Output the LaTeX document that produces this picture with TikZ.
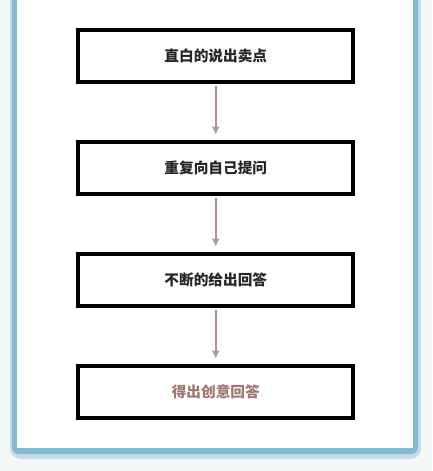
\documentclass[tikz,border=0pt]{standalone}
\usepackage{fontspec}
\newfontfamily\cjk{Noto Sans CJK SC}
\usepackage{tikz}
\usetikzlibrary{arrows.meta}

\definecolor{pagebg}{HTML}{F4F8F9}
\definecolor{framebl}{HTML}{86B8CE}
\definecolor{framelt}{HTML}{C4DDE8}
\definecolor{arrline}{HTML}{BE8E8E}
\definecolor{arrhead}{HTML}{A89C9C}
\definecolor{resulttxt}{HTML}{A07672}

\begin{document}
\begin{tikzpicture}[
        x=0.75pt, y=-0.75pt,
        font=\cjk\bfseries\fontsize{11pt}{13pt}\selectfont,
        stepbox/.style={draw, line width=3pt, minimum width=206.6pt, minimum height=39pt, inner sep=0pt, align=center, fill=white, text=black!85},
        arr/.style={-{Latex[length=6pt, width=6pt, color=arrhead]}, line width=1.4pt, color=arrline, shorten <=1.5pt, shorten >=4pt}
      ]
        % page and panel
        \fill[pagebg] (0,0) rectangle (432,471);
        \useasboundingbox (0,0) rectangle (432,471);
        \fill[framelt, rounded corners=8pt] (10,-20) rectangle (421,459);
        \fill[framebl, rounded corners=5pt] (12,-20) rectangle (418,454);
        \fill[white] (17,-20) rectangle (413,448);

        \node[stepbox] (say) at (215.75,56) {直白的说出卖点};
        \node[stepbox] (ask) at (215.75,168) {重复向自己提问};
        \node[stepbox] (answer) at (215.75,280) {不断的给出回答};
        \node[stepbox, text=resulttxt] (idea) at (215.75,392) {得出创意回答};

        \draw[arr] (say) -- (ask);
        \draw[arr] (ask) -- (answer);
        \draw[arr] (answer) -- (idea);
      \end{tikzpicture}
\end{document}
